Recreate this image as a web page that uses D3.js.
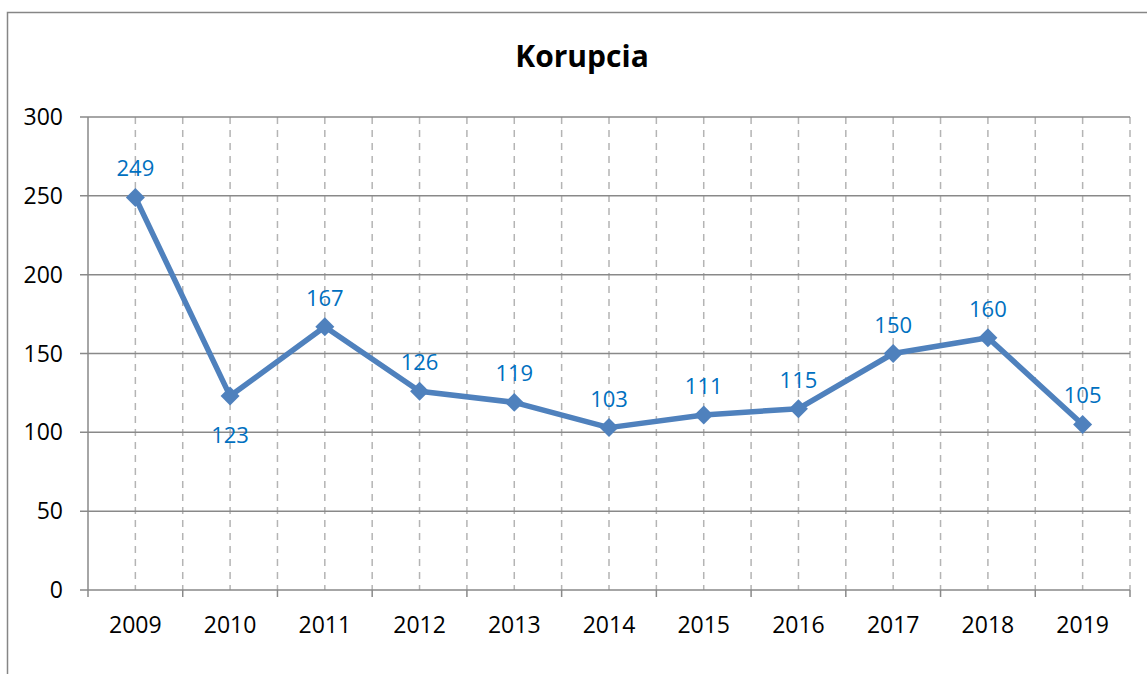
<!DOCTYPE html>
<html>
<head>
<meta charset="utf-8">
<script src="https://cdn.jsdelivr.net/npm/d3@7"></script>
<style>
  body { margin: 0; background: #fff; }
  text { font-family: "Open Sans", "Noto Sans", sans-serif; }
</style>
</head>
<body>
<script>
var w = 1147;
var h = 674;

var years = ["2009", "2010", "2011", "2012", "2013", "2014", "2015", "2016", "2017", "2018", "2019"];
var counts = [249, 123, 167, 126, 119, 103, 111, 115, 150, 160, 105];
var yTicks = [0, 50, 100, 150, 200, 250, 300];
var labelBelow = ["2010"];

// plot area edges
var plotLeft = 88, plotRight = 1130, plotTop = 117, plotBottom = 590;

var svg = d3.select("body")
  .append("svg")
  .attr("width", w)
  .attr("height", h);

// outer chart frame (runs off the right and bottom of the picture)
svg.append("rect")
  .attr("x", 7.5).attr("y", 12.5)
  .attr("width", w + 20).attr("height", h + 20)
  .attr("fill", "none")
  .attr("stroke", "#868686")
  .attr("stroke-width", 1.5);

var xScale = d3.scaleBand()
  .domain(years)
  .range([plotLeft, plotRight]);

var yScale = d3.scaleLinear()
  .domain([0, 300])
  .range([plotBottom, plotTop]);

// vertical dashed gridlines: at centers and at boundaries
var vLines = [];
years.forEach(function(y) {
  vLines.push(xScale(y) + xScale.bandwidth() / 2);
  vLines.push(xScale(y) + xScale.bandwidth());
});
svg.selectAll("line.vgrid")
  .data(vLines)
  .enter()
  .append("line")
  .attr("class", "vgrid")
  .attr("x1", function(d) { return d; })
  .attr("x2", function(d) { return d; })
  .attr("y1", plotTop)
  .attr("y2", plotBottom)
  .attr("stroke", "#b4b4b4")
  .attr("stroke-width", 1.5)
  .attr("stroke-dasharray", "7,6");

// horizontal gridlines
svg.selectAll("line.hgrid")
  .data(yTicks)
  .enter()
  .append("line")
  .attr("class", "hgrid")
  .attr("x1", plotLeft - 8)
  .attr("x2", plotRight)
  .attr("y1", function(d) { return yScale(d); })
  .attr("y2", function(d) { return yScale(d); })
  .attr("stroke", "#898989")
  .attr("stroke-width", 1.5);

// y axis line
svg.append("line")
  .attr("x1", plotLeft).attr("x2", plotLeft)
  .attr("y1", plotTop).attr("y2", plotBottom + 7)
  .attr("stroke", "#898989")
  .attr("stroke-width", 1.5);

// x tick marks at boundaries
svg.selectAll("line.xtick")
  .data(years)
  .enter()
  .append("line")
  .attr("class", "xtick")
  .attr("x1", function(d) { return xScale(d) + xScale.bandwidth(); })
  .attr("x2", function(d) { return xScale(d) + xScale.bandwidth(); })
  .attr("y1", plotBottom)
  .attr("y2", plotBottom + 7)
  .attr("stroke", "#898989")
  .attr("stroke-width", 1.5);

// y labels
svg.selectAll("text.ylab")
  .data(yTicks)
  .enter()
  .append("text")
  .attr("class", "ylab")
  .text(function(d) { return d; })
  .attr("x", 63)
  .attr("y", function(d) { return yScale(d) + 8; })
  .attr("text-anchor", "end")
  .attr("font-size", "23px")
  .attr("fill", "#000");

// x labels
svg.selectAll("text.xlab")
  .data(years)
  .enter()
  .append("text")
  .attr("class", "xlab")
  .text(function(d) { return d; })
  .attr("x", function(d) { return xScale(d) + xScale.bandwidth() / 2; })
  .attr("y", 633)
  .attr("text-anchor", "middle")
  .attr("font-size", "23px")
  .attr("fill", "#000");

// title
svg.append("text")
  .text("Korupcia")
  .attr("x", 582)
  .attr("y", 67)
  .attr("text-anchor", "middle")
  .attr("font-size", "30px")
  .attr("font-weight", "bold")
  .attr("fill", "#000");

var line = d3.line()
  .x(function(d, i) { return xScale(years[i]) + xScale.bandwidth() / 2; })
  .y(function(d) { return yScale(d); });

svg.append("path")
  .datum(counts)
  .attr("d", line)
  .attr("fill", "none")
  .attr("stroke", "#4f81bd")
  .attr("stroke-width", 5.5)
  .attr("stroke-linejoin", "round");

// diamond markers
svg.selectAll("path.marker")
  .data(counts)
  .enter()
  .append("path")
  .attr("class", "marker")
  .attr("d", d3.symbol().type(d3.symbolSquare).size(180))
  .attr("transform", function(d, i) {
    return "translate(" + (xScale(years[i]) + xScale.bandwidth() / 2) + "," + yScale(d) + ") rotate(45)";
  })
  .attr("fill", "#4f81bd");

// data labels
svg.selectAll("text.dlab")
  .data(counts)
  .enter()
  .append("text")
  .attr("class", "dlab")
  .text(function(d) { return d; })
  .attr("x", function(d, i) { return xScale(years[i]) + xScale.bandwidth() / 2; })
  .attr("y", function(d, i) {
    if (labelBelow.indexOf(years[i]) >= 0) return yScale(d) + 47;
    return yScale(d) - 21;
  })
  .attr("text-anchor", "middle")
  .attr("font-size", "22px")
  .attr("fill", "#0070c0");
</script>
</body>
</html>
